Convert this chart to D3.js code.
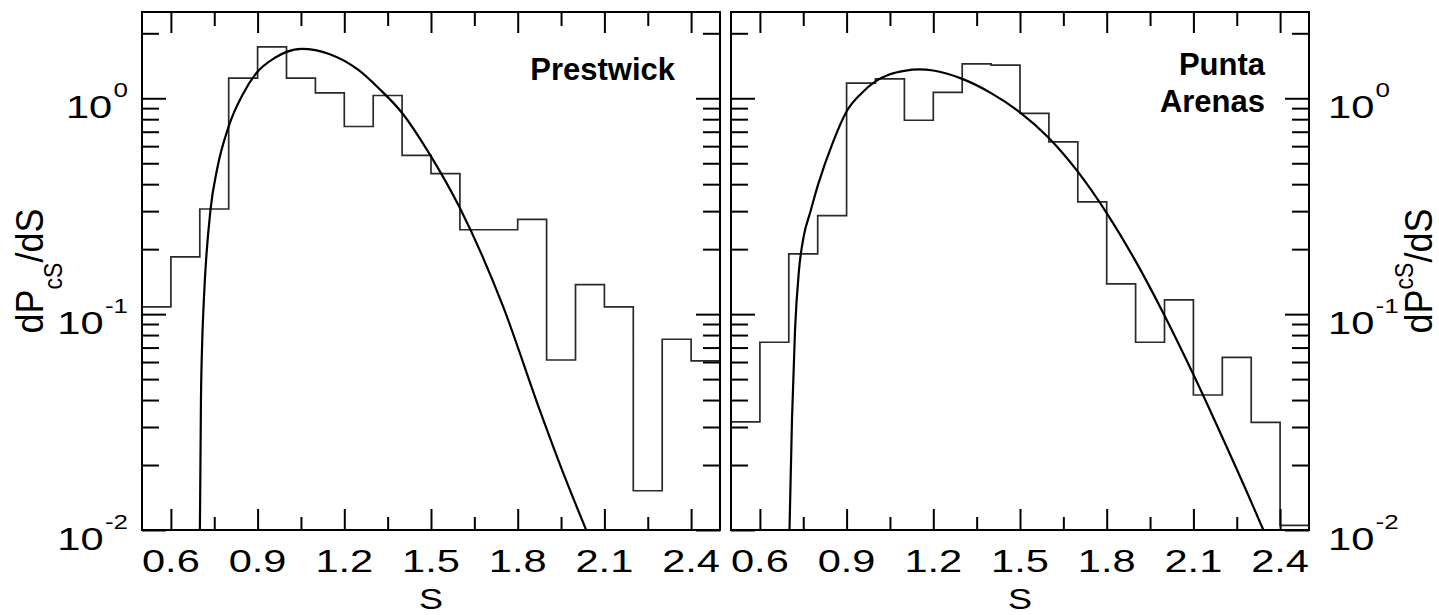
<!DOCTYPE html>
<html><head><meta charset="utf-8">
<script src="https://cdn.jsdelivr.net/npm/d3@7"></script>
<style>
html,body{margin:0;padding:0;background:#fff;}
svg{display:block;}
text{font-family:"Liberation Sans",Arial,Helvetica,sans-serif;fill:#000;}
</style>
</head><body>
<svg id="chart" width="1439" height="615"></svg>
<script>
// ---------- data ----------
const binEdges = [0.5,0.6,0.7,0.8,0.9,1.0,1.1,1.2,1.3,1.4,1.5,1.6,1.7,1.8,1.9,2.0,2.1,2.2,2.3,2.4,2.5];
const prestwickHist = [0.108,0.184,0.307,1.24,1.73,1.24,1.06,0.74,1.03,0.544,0.448,0.246,0.246,0.275,0.0613,0.137,0.108,0.0152,0.0765,0.0607];
const puntaHist = [0.0317,0.0741,0.190,0.286,1.175,1.23,0.791,1.066,1.444,1.425,0.852,0.628,0.331,0.138,0.0741,0.1164,0.0422,0.0631,0.0315,0.0105];

const prestwickFitS = [0.7003,0.704,0.708,0.714,0.7374,0.76,0.80,0.85,0.896,0.96,1.00,1.052,1.15,1.25,1.323,1.40,1.50,1.60,1.75,1.876,1.95,2.037];
const prestwickFitP = [0.01,0.04,0.072,0.116,0.307,0.47,0.741,1.05,1.31,1.54,1.64,1.695,1.60,1.35,1.10,0.855,0.538,0.31,0.108,0.036,0.0195,0.01];

const puntaFitS = [0.7024,0.711,0.7215,0.7353,0.7526,0.7734,0.801,0.8529,0.9014,0.95,1.00,1.05,1.10,1.15,1.20,1.30,1.40,1.50,1.60,1.70,1.80,1.90,2.00,2.10,2.20,2.30,2.342];
const puntaFitP = [0.01,0.0323,0.0845,0.160,0.233,0.294,0.397,0.627,0.875,1.05,1.197,1.291,1.34,1.36,1.345,1.23,1.057,0.861,0.655,0.457,0.294,0.176,0.0986,0.0525,0.0269,0.0135,0.01];

const xMajorTicks = [0.6,0.9,1.2,1.5,1.8,2.1,2.4];
const xTickLabels = ["0.6","0.9","1.2","1.5","1.8","2.1","2.4"];
const xMinorTicks = [0.75,1.05,1.35,1.65,1.95,2.25];
const yMajorTicks = [0.01,0.1,1];
const yTickExponents = ["-2","-1","0"];
const yMinorTicks = [0.02,0.03,0.04,0.05,0.06,0.07,0.08,0.09,0.2,0.3,0.4,0.5,0.6,0.7,0.8,0.9,2];
const xDomain = [0.5,2.5];
const yDomain = [0.01,2.51];

// ---------- layout ----------
const svg = d3.select("#chart");
const plotTop = 12, plotBottom = 530;
const panels = [
  {x0:142, x1:720, hist:prestwickHist, fitS:prestwickFitS, fitP:prestwickFitP, labels:["Prestwick"], labelX:675, labelY:[80], yLabelSide:"left"},
  {x0:731, x1:1309, hist:puntaHist, fitS:puntaFitS, fitP:puntaFitP, labels:["Punta","Arenas"], labelX:1265, labelY:[75,111.5], yLabelSide:"right"}
];
const y = d3.scaleLog().domain(yDomain).range([plotBottom, plotTop]);
const SX = 1.3;

panels.forEach((p, i) => {
  const x = d3.scaleLinear().domain(xDomain).range([p.x0, p.x1]);
  const g = svg.append("g");
  const clipId = "clip" + i;
  svg.append("clipPath").attr("id", clipId).append("rect")
    .attr("x", p.x0).attr("y", plotTop).attr("width", p.x1 - p.x0).attr("height", plotBottom - plotTop);

  // histogram
  const pts = p.hist.map((v, k) => [binEdges[k], v]);
  pts.push([binEdges[binEdges.length - 1], p.hist[p.hist.length - 1]]);
  g.append("path").datum(pts)
    .attr("d", d3.line().x(d => x(d[0])).y(d => y(d[1])).curve(d3.curveStepAfter))
    .attr("fill", "none").attr("stroke", "#2a2a2a").attr("stroke-width", 1.7)
    .attr("clip-path", `url(#${clipId})`);

  // fit curve
  const fit = p.fitS.map((s, k) => [s, p.fitP[k]]);
  g.append("path").datum(fit)
    .attr("d", d3.line().x(d => x(d[0])).y(d => y(d[1])).curve(d3.curveMonotoneX))
    .attr("fill", "none").attr("stroke", "#000").attr("stroke-width", 2.2)
    .attr("clip-path", `url(#${clipId})`);

  // ticks via d3 axes (inward)
  const styleAxis = sel => { sel.select(".domain").remove(); sel.selectAll("line").attr("stroke", "#000").attr("stroke-width", 2); };
  g.append("g").attr("transform", `translate(0,${plotBottom})`)
    .call(d3.axisBottom(x).tickValues(xMajorTicks).tickSize(-21).tickFormat("")).call(styleAxis);
  g.append("g").attr("transform", `translate(0,${plotBottom})`)
    .call(d3.axisBottom(x).tickValues(xMinorTicks).tickSize(-13).tickFormat("")).call(styleAxis);
  g.append("g").attr("transform", `translate(0,${plotTop})`)
    .call(d3.axisTop(x).tickValues(xMajorTicks).tickSize(-21).tickFormat("")).call(styleAxis);
  g.append("g").attr("transform", `translate(0,${plotTop})`)
    .call(d3.axisTop(x).tickValues(xMinorTicks).tickSize(-14).tickFormat("")).call(styleAxis);
  g.append("g").attr("transform", `translate(${p.x0},0)`)
    .call(d3.axisLeft(y).tickValues(yMajorTicks).tickSize(-24).tickFormat("")).call(styleAxis);
  g.append("g").attr("transform", `translate(${p.x0},0)`)
    .call(d3.axisLeft(y).tickValues(yMinorTicks).tickSize(-17).tickFormat("")).call(styleAxis);
  g.append("g").attr("transform", `translate(${p.x1},0)`)
    .call(d3.axisRight(y).tickValues(yMajorTicks).tickSize(-24).tickFormat("")).call(styleAxis);
  g.append("g").attr("transform", `translate(${p.x1},0)`)
    .call(d3.axisRight(y).tickValues(yMinorTicks).tickSize(-17).tickFormat("")).call(styleAxis);

  // frame
  g.append("rect").attr("x", p.x0).attr("y", plotTop).attr("width", p.x1 - p.x0).attr("height", plotBottom - plotTop)
    .attr("fill", "none").attr("stroke", "#000").attr("stroke-width", 2);

  // x tick labels
  xMajorTicks.forEach((t, k) => {
    g.append("text").attr("transform", `translate(${x(t)},572) scale(${SX},1)`)
      .attr("text-anchor", "middle").attr("font-size", 32).text(xTickLabels[k]);
  });
  // x title
  g.append("text").attr("transform", `translate(${(p.x0 + p.x1) / 2},609) scale(1.2,1)`)
    .attr("text-anchor", "middle").attr("font-size", 30).text("S");

  // y tick labels
  yMajorTicks.forEach((t, k) => {
    const lx = p.yLabelSide === "left" ? 128 : 1328;
    const t0 = g.append("text").attr("transform", `translate(${lx},${y(t) + 19.5}) scale(${SX},1)`)
      .attr("text-anchor", p.yLabelSide === "left" ? "end" : "start").attr("font-size", 32);
    t0.append("tspan").text("10");
    t0.append("tspan").attr("font-size", 20).attr("dy", -21).attr("dx", 1).text(yTickExponents[k]);
  });

  // y title
  const tx = p.yLabelSide === "left" ? 43 : 1432;
  const yt = g.append("text").attr("transform", `translate(${tx},271) scale(1.1,1) rotate(-90)`)
    .attr("text-anchor", "middle").attr("font-size", 36);
  yt.append("tspan").text("dP");
  const subDy = p.yLabelSide === "left" ? 17 : -17;
  yt.append("tspan").attr("font-size", 23).attr("dy", subDy).text("cS");
  yt.append("tspan").attr("dy", -subDy).text("/dS");

  // panel label
  p.labels.forEach((lab, k) => {
    g.append("text").attr("x", p.labelX).attr("y", p.labelY[k]).attr("text-anchor", "end")
      .attr("font-size", 31).attr("font-weight", "bold").text(lab);
  });
});
</script>
</body></html>
